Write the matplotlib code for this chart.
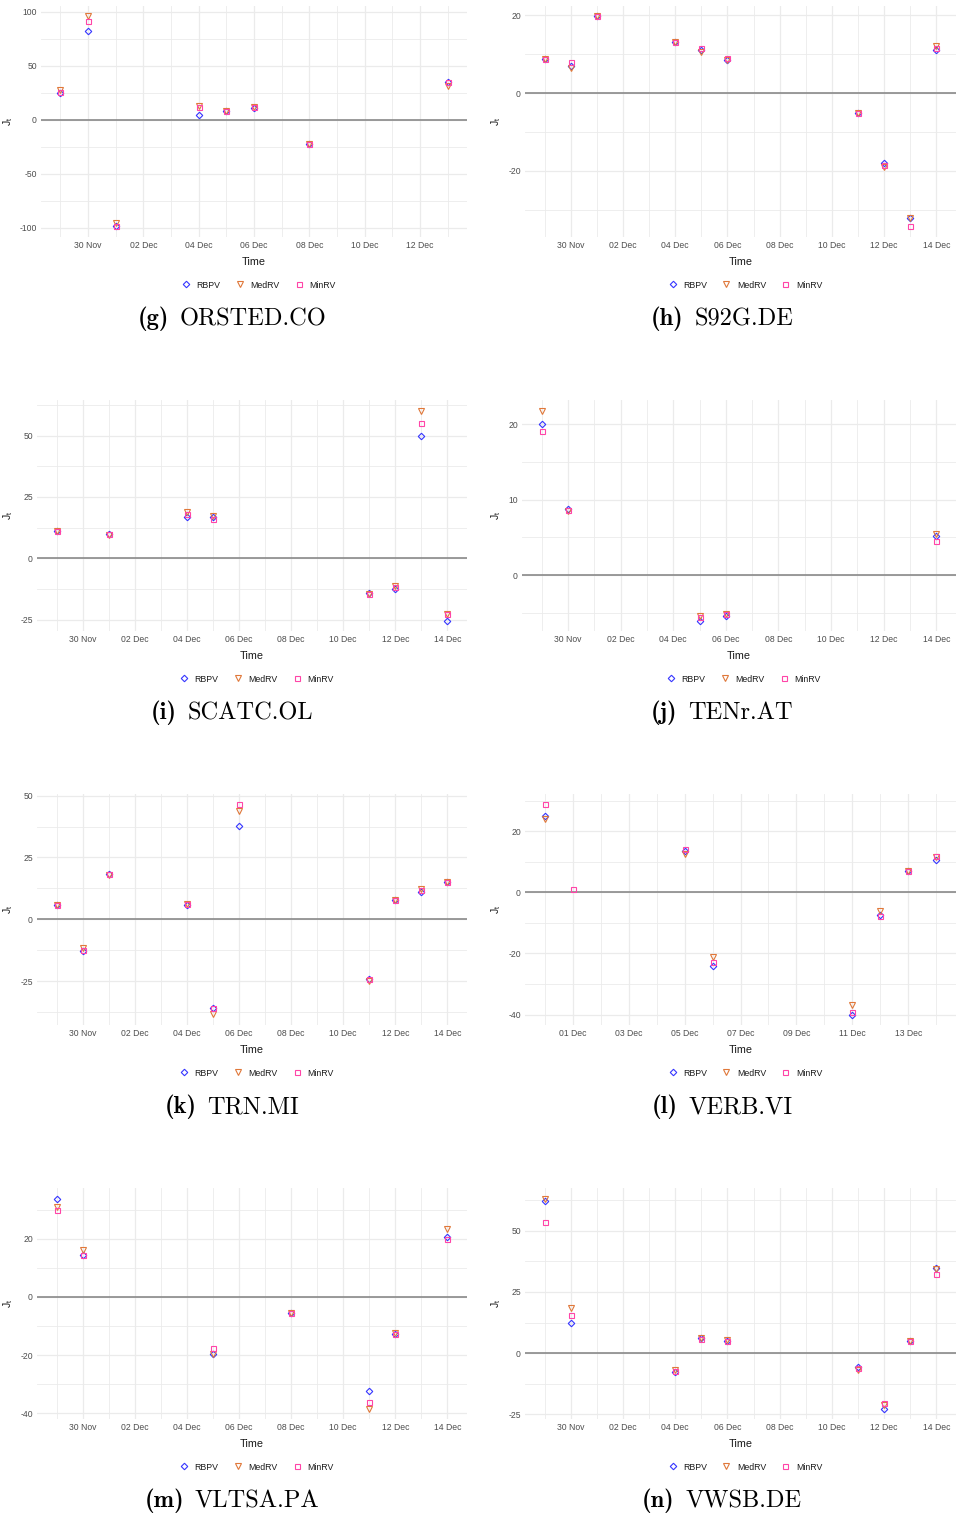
import numpy as np
import matplotlib.pyplot as plt
import matplotlib.dates as mdates

plt.rcParams['font.family'] = ['Liberation Sans', 'DejaVu Sans']
plt.rcParams['mathtext.fontset'] = 'cm'

# ORSTED.CO
orsted_days = ['2021-11-29', '2021-11-30', '2021-12-01', '2021-12-04',
               '2021-12-05', '2021-12-06', '2021-12-08', '2021-12-13']
orsted_rbpv = [24.3, 82.2, -98.8, 4.6, 8.0, 10.8, -22.5, 34.8]
orsted_medrv = [27.0, 95.4, -95.4, 12.3, 8.0, 11.7, -22.5, 31.0]
orsted_minrv = [26.0, 91.0, -98.0, 12.0, 8.0, 11.4, -22.5, 35.0]

# S92G.DE
s92g_days = ['2021-11-29', '2021-11-30', '2021-12-01', '2021-12-04', '2021-12-05',
             '2021-12-06', '2021-12-11', '2021-12-12', '2021-12-13', '2021-12-14']
s92g_rbpv = [8.7, 7.0, 19.7, 13.1, 11.0, 8.6, -5.0, -18.0, -32.0, 11.2]
s92g_medrv = [8.7, 6.4, 19.7, 13.1, 10.5, 8.5, -5.0, -19.1, -32.0, 12.1]
s92g_minrv = [8.7, 7.9, 19.7, 13.1, 11.7, 9.0, -5.0, -18.5, -34.3, 11.5]

# SCATC.OL
scatc_days = ['2021-11-29', '2021-12-01', '2021-12-04', '2021-12-05',
              '2021-12-11', '2021-12-12', '2021-12-13', '2021-12-14']
scatc_rbpv = [10.9, 9.8, 16.8, 16.7, -14.0, -12.4, 50.0, -25.4]
scatc_medrv = [10.9, 9.4, 18.8, 17.4, -14.5, -11.5, 60.2, -22.8]
scatc_minrv = [10.9, 9.8, 17.9, 15.9, -14.8, -11.8, 55.0, -22.8]

# TENr.AT
tenr_days = ['2021-11-29', '2021-11-30', '2021-12-05', '2021-12-06', '2021-12-14']
tenr_rbpv = [20.0, 8.76, -6.0, -5.44, 5.2]
tenr_medrv = [21.8, 8.45, -5.44, -5.2, 5.5]
tenr_minrv = [19.1, 8.67, -5.6, -5.2, 4.5]

# TRN.MI
trn_days = ['2021-11-29', '2021-11-30', '2021-12-01', '2021-12-04', '2021-12-05',
            '2021-12-06', '2021-12-11', '2021-12-12', '2021-12-13', '2021-12-14']
trn_rbpv = [5.8, -12.7, 18.2, 5.7, -35.7, 37.7, -24.1, 7.9, 10.9, 14.9]
trn_medrv = [5.8, -11.8, 17.8, 6.2, -38.5, 43.9, -25.0, 7.9, 12.2, 14.9]
trn_minrv = [5.8, -12.5, 18.2, 6.2, -35.7, 46.4, -24.2, 7.9, 12.0, 14.9]

# VERB.VI
verb_days = ['2021-11-30', '2021-12-01', '2021-12-05', '2021-12-06',
             '2021-12-11', '2021-12-12', '2021-12-13', '2021-12-14']
verb_rbpv = [25.0, np.nan, 13.4, -24.2, -40.0, -7.6, 7.0, 10.4]
verb_medrv = [23.9, np.nan, 12.6, -21.3, -36.8, -6.0, 7.0, 11.5]
verb_minrv = [28.7, 1.2, 14.2, -22.9, -39.2, -7.9, 7.0, 12.0]

# VLTSA.PA
vltsa_days = ['2021-11-29', '2021-11-30', '2021-12-05', '2021-12-08',
              '2021-12-11', '2021-12-12', '2021-12-14']
vltsa_rbpv = [33.9, 14.5, -19.8, -5.4, -32.4, -12.9, 20.8]
vltsa_medrv = [31.0, 16.2, -19.8, -5.4, -38.4, -12.5, 23.4]
vltsa_minrv = [29.9, 14.5, -17.5, -5.4, -36.2, -12.8, 19.8]

# VWSB.DE
vwsb_days = ['2021-11-29', '2021-11-30', '2021-12-04', '2021-12-05', '2021-12-06',
             '2021-12-11', '2021-12-12', '2021-12-13', '2021-12-14']
vwsb_rbpv = [62.2, 12.5, -7.8, 6.1, 4.8, -5.6, -22.6, 4.8, 34.9]
vwsb_medrv = [63.2, 18.4, -6.7, 6.4, 5.3, -6.7, -21.1, 5.0, 34.6]
vwsb_minrv = [53.8, 15.7, -7.1, 5.7, 5.0, -6.0, -20.5, 4.8, 32.5]

panels = [
    ('g', 'ORSTED.CO', orsted_days, orsted_rbpv, orsted_medrv, orsted_minrv, '2021-11-30', [-100, -50, 0, 50, 100]),
    ('h', 'S92G.DE', s92g_days, s92g_rbpv, s92g_medrv, s92g_minrv, '2021-11-30', [-20, 0, 20]),
    ('i', 'SCATC.OL', scatc_days, scatc_rbpv, scatc_medrv, scatc_minrv, '2021-11-30', [-25, 0, 25, 50]),
    ('j', 'TENr.AT', tenr_days, tenr_rbpv, tenr_medrv, tenr_minrv, '2021-11-30', [0, 10, 20]),
    ('k', 'TRN.MI', trn_days, trn_rbpv, trn_medrv, trn_minrv, '2021-11-30', [-25, 0, 25, 50]),
    ('l', 'VERB.VI', verb_days, verb_rbpv, verb_medrv, verb_minrv, '2021-12-01', [-40, -20, 0, 20]),
    ('m', 'VLTSA.PA', vltsa_days, vltsa_rbpv, vltsa_medrv, vltsa_minrv, '2021-11-30', [-40, -20, 0, 20]),
    ('n', 'VWSB.DE', vwsb_days, vwsb_rbpv, vwsb_medrv, vwsb_minrv, '2021-11-30', [-25, 0, 25, 50]),
]

series_style = [
    ('RBPV', 'D', 3.3, '#3535ff'),
    ('MedRV', 'v', 4.2, '#e0783a'),
    ('MinRV', 's', 3.6, '#ff45a8'),
]

W, H = 957, 1515
fig = plt.figure(figsize=(W / 100, H / 100), dpi=100)
renderer = fig.canvas.get_renderer()

left_px = {'g': 41, 'h': 525, 'i': 37, 'j': 522, 'k': 37, 'l': 525, 'm': 37, 'n': 525}
grid_col = '#ebebeb'

for idx, (tag, name, days, rbpv, medrv, minrv, first_major, yticks) in enumerate(panels):
    row, col = divmod(idx, 2)
    x0 = left_px[tag]
    x1 = 467 if col == 0 else 956
    top = 6 + 394 * row
    bottom = 237 + 394 * row
    ax = fig.add_axes([x0 / W, 1 - bottom / H, (x1 - x0) / W, (bottom - top) / H])

    t = np.array(days, dtype='datetime64[D]')
    tnum = mdates.date2num(t)
    values = [rbpv, medrv, minrv]

    ax.axhline(0, color='#808080', lw=1.1, zorder=1)
    for (label, mk, ms, colr), vals in zip(series_style, values):
        ax.plot(tnum, vals, linestyle='none', marker=mk, ms=ms, mfc='none',
                mec=colr, mew=0.8, label=label, zorder=3)

    # limits with 5% padding on each side
    allv = np.concatenate([np.asarray(v, dtype=float) for v in values])
    ylo, yhi = np.nanmin(allv), np.nanmax(allv)
    ypad = 0.05 * (yhi - ylo)
    xlo, xhi = tnum.min(), tnum.max()
    xpad = 0.05 * (xhi - xlo)

    step = yticks[1] - yticks[0]
    yminor = np.arange(yticks[0] - step / 2, yticks[-1] + step, step)
    yminor = yminor[(yminor > ylo - ypad) & (yminor < yhi + ypad)]
    ax.set_yticks(yticks)
    ax.set_yticks(yminor, minor=True)
    ax.set_yticklabels([str(v) for v in yticks])

    start = mdates.date2num(np.datetime64(first_major))
    xmajor = np.arange(start, xhi + 0.5, 2)
    xminor = np.arange(xlo, xhi + 0.5, 1)
    ax.set_xticks(xmajor)
    ax.set_xticks(xminor, minor=True)
    ax.xaxis.set_major_formatter(mdates.DateFormatter('%d %b'))

    ax.set_xlim(xlo - xpad, xhi + xpad)
    ax.set_ylim(ylo - ypad, yhi + ypad)

    ax.grid(True, which='major', color=grid_col, lw=0.9, zorder=0)
    ax.grid(True, which='minor', color=grid_col, lw=0.6, zorder=0)
    ax.set_axisbelow(True)
    for s in ax.spines.values():
        s.set_visible(False)
    ax.tick_params(which='both', length=0, labelsize=6.2, labelcolor='#4d4d4d', pad=3)

    ax.set_xlabel('Time', fontsize=7.8, color='#1a1a1a')
    ax.xaxis.set_label_coords(0.5, -20 / 231)
    ax.set_ylabel(r'$\mathregular{J_t}$', fontsize=7.5, color='#1a1a1a')
    ylab_px = 15 if col == 0 else 503
    ax.yaxis.set_label_coords((ylab_px - x0) / (x1 - x0), 0.5)

    ax.legend(loc='center', bbox_to_anchor=(0.51, -48 / 231), ncol=3, frameon=False,
              fontsize=6.3, handlelength=1.2, handletextpad=0.6, columnspacing=1.6,
              labelcolor='#1a1a1a')

    # caption: bold "(x)" followed by the ticker in Computer Modern
    cx = 232 if col == 0 else 722
    base = 1 - (325 + 394 * row) / H
    t_tag = fig.text(0, base, '(%s)' % tag, family='cmb10', fontsize=17.6,
                     ha='left', va='baseline')
    t_name = fig.text(0, base, name, family='cmr10', fontsize=17.6,
                      ha='left', va='baseline')
    w_tag = t_tag.get_window_extent(renderer).width
    w_name = t_name.get_window_extent(renderer).width
    gap = 11
    x_start = cx - (w_tag + gap + w_name) / 2
    t_tag.set_x(x_start / W)
    t_name.set_x((x_start + w_tag + gap) / W)

fig.savefig('out.png', dpi=100, facecolor='white')
